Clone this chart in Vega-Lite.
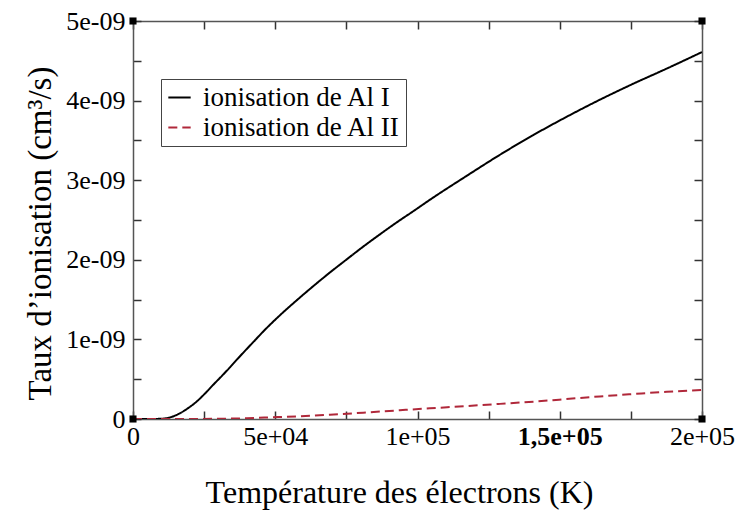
{
  "$schema": "https://vega.github.io/schema/vega-lite/v6.json",
  "width": 569,
  "height": 398,
  "autosize": "none",
  "padding": {"left": 133, "top": 21, "right": 37, "bottom": 103},
  "background": "white",
  "config": {
    "view": {"stroke": null},
    "font": "Liberation Serif",
    "axis": {
      "domainColor": "#555",
      "domainWidth": 1.5,
      "ticks": true,
      "tickColor": "#333",
      "tickOpacity": 1,
      "tickWidth": 1.5,
      "tickSize": -8,
      "grid": false,
      "zindex": 1,
      "labelFont": "Liberation Serif",
      "labelFontSize": 26,
      "labelColor": "black",
      "titleFont": "Liberation Serif",
      "titleFontWeight": "normal",
      "titleColor": "black",
      "labelOverlap": false,
      "labelBound": false,
      "labelFlush": false
    },
    "legend": {
      "labelFont": "Liberation Serif",
      "labelFontSize": 27,
      "labelColor": "black",
      "labelLimit": 0,
      "strokeColor": "#444",
      "fillColor": "white",
      "padding": 5,
      "rowPadding": 2,
      "labelOffset": 10,
      "symbolType": "stroke",
      "symbolSize": 500,
      "symbolStrokeWidth": 2
    }
  },
  "datasets": {
    "rates": [
      {"T": 0, "rate": 0, "series": "ionisation de Al I"},
      {"T": 5000, "rate": 0, "series": "ionisation de Al I"},
      {"T": 10000, "rate": 0.003e-9, "series": "ionisation de Al I"},
      {"T": 13000, "rate": 0.02e-9, "series": "ionisation de Al I"},
      {"T": 16500, "rate": 0.072e-9, "series": "ionisation de Al I"},
      {"T": 19500, "rate": 0.14e-9, "series": "ionisation de Al I"},
      {"T": 22400, "rate": 0.22e-9, "series": "ionisation de Al I"},
      {"T": 25300, "rate": 0.32e-9, "series": "ionisation de Al I"},
      {"T": 28200, "rate": 0.43e-9, "series": "ionisation de Al I"},
      {"T": 31200, "rate": 0.54e-9, "series": "ionisation de Al I"},
      {"T": 34100, "rate": 0.65e-9, "series": "ionisation de Al I"},
      {"T": 37000, "rate": 0.765e-9, "series": "ionisation de Al I"},
      {"T": 40000, "rate": 0.88e-9, "series": "ionisation de Al I"},
      {"T": 42900, "rate": 0.99e-9, "series": "ionisation de Al I"},
      {"T": 45800, "rate": 1.10e-9, "series": "ionisation de Al I"},
      {"T": 51700, "rate": 1.305e-9, "series": "ionisation de Al I"},
      {"T": 57500, "rate": 1.49e-9, "series": "ionisation de Al I"},
      {"T": 63400, "rate": 1.67e-9, "series": "ionisation de Al I"},
      {"T": 69200, "rate": 1.84e-9, "series": "ionisation de Al I"},
      {"T": 75100, "rate": 2.005e-9, "series": "ionisation de Al I"},
      {"T": 80900, "rate": 2.165e-9, "series": "ionisation de Al I"},
      {"T": 86800, "rate": 2.32e-9, "series": "ionisation de Al I"},
      {"T": 92700, "rate": 2.47e-9, "series": "ionisation de Al I"},
      {"T": 98500, "rate": 2.61e-9, "series": "ionisation de Al I"},
      {"T": 104400, "rate": 2.755e-9, "series": "ionisation de Al I"},
      {"T": 117300, "rate": 3.055e-9, "series": "ionisation de Al I"},
      {"T": 129000, "rate": 3.32e-9, "series": "ionisation de Al I"},
      {"T": 140700, "rate": 3.567e-9, "series": "ionisation de Al I"},
      {"T": 152400, "rate": 3.796e-9, "series": "ionisation de Al I"},
      {"T": 164100, "rate": 4.011e-9, "series": "ionisation de Al I"},
      {"T": 175900, "rate": 4.213e-9, "series": "ionisation de Al I"},
      {"T": 187600, "rate": 4.402e-9, "series": "ionisation de Al I"},
      {"T": 200000, "rate": 4.61e-9, "series": "ionisation de Al I"},
      {"T": 0, "rate": 0, "series": "ionisation de Al II"},
      {"T": 20000, "rate": 0, "series": "ionisation de Al II"},
      {"T": 30000, "rate": 0.003e-9, "series": "ionisation de Al II"},
      {"T": 40000, "rate": 0.01e-9, "series": "ionisation de Al II"},
      {"T": 48000, "rate": 0.02e-9, "series": "ionisation de Al II"},
      {"T": 57500, "rate": 0.032e-9, "series": "ionisation de Al II"},
      {"T": 69200, "rate": 0.053e-9, "series": "ionisation de Al II"},
      {"T": 80900, "rate": 0.08e-9, "series": "ionisation de Al II"},
      {"T": 93800, "rate": 0.11e-9, "series": "ionisation de Al II"},
      {"T": 104400, "rate": 0.134e-9, "series": "ionisation de Al II"},
      {"T": 117300, "rate": 0.163e-9, "series": "ionisation de Al II"},
      {"T": 129000, "rate": 0.19e-9, "series": "ionisation de Al II"},
      {"T": 140700, "rate": 0.218e-9, "series": "ionisation de Al II"},
      {"T": 149800, "rate": 0.243e-9, "series": "ionisation de Al II"},
      {"T": 164100, "rate": 0.284e-9, "series": "ionisation de Al II"},
      {"T": 175900, "rate": 0.314e-9, "series": "ionisation de Al II"},
      {"T": 187600, "rate": 0.342e-9, "series": "ionisation de Al II"},
      {"T": 200000, "rate": 0.365e-9, "series": "ionisation de Al II"}
    ],
    "corners": [
      {"T": 0, "rate": 0},
      {"T": 0, "rate": 5e-9},
      {"T": 200000, "rate": 0},
      {"T": 200000, "rate": 5e-9}
    ]
  },
  "layer": [
    {
      "data": {"name": "rates"},
      "mark": {"type": "line", "strokeWidth": 2, "interpolate": "monotone", "clip": true},
      "encoding": {
        "x": {
          "field": "T", "type": "quantitative",
          "scale": {"domain": [0, 200000], "nice": false, "zero": false},
          "axis": {
            "orient": "bottom",
            "title": "Température des électrons (K)",
            "titleFontSize": 32,
            "titlePadding": 28,
            "titleX": 266,
            "values": [0, 25000, 50000, 75000, 100000, 125000, 150000, 175000, 200000],
            "labelExpr": "datum.value == 0 ? '0' : datum.value == 50000 ? '5e+04' : datum.value == 100000 ? '1e+05' : datum.value == 150000 ? '1,5e+05' : datum.value == 200000 ? '2e+05' : ''",
            "labelFont": "Liberation Serif",
            "labelFontSize": 26,
            "labelFontWeight": {"condition": {"test": "datum.value == 150000", "value": "bold"}, "value": "normal"},
            "tickSize": -8,
            "labelPadding": 12
          }
        },
        "y": {
          "field": "rate", "type": "quantitative",
          "scale": {"domain": [0, 5e-9], "nice": false, "zero": false},
          "axis": {
            "orient": "left",
            "title": "Taux d’ionisation (cm³/s)",
            "titleFontSize": 33,
            "titlePadding": 8,
            "titleY": 212,
            "values": [0, 0.5e-9, 1e-9, 1.5e-9, 2e-9, 2.5e-9, 3e-9, 3.5e-9, 4e-9, 4.5e-9, 5e-9],
            "labelExpr": "datum.value == 0 ? '0' : (abs(datum.value*1e9 - round(datum.value*1e9)) < 0.01 ? round(datum.value*1e9) + 'e-09' : '')",
            "labelFont": "Liberation Serif",
            "labelFontSize": 26,
            "tickSize": -8,
            "labelPadding": 16
          }
        },
        "color": {
          "field": "series", "type": "nominal",
          "scale": {"domain": ["ionisation de Al I", "ionisation de Al II"], "range": ["black", "#b0283a"]},
          "legend": {"title": null, "orient": "none", "legendX": 28, "legendY": 58}
        },
        "strokeDash": {
          "field": "series", "type": "nominal",
          "scale": {"domain": ["ionisation de Al I", "ionisation de Al II"], "range": [[1, 0], [9, 5]]},
          "legend": {"title": null, "orient": "none", "legendX": 28, "legendY": 58}
        }
      }
    },
    {
      "data": {"name": "corners"},
      "mark": {"type": "point", "shape": "square", "filled": true, "color": "black", "size": 50, "opacity": 1},
      "encoding": {
        "x": {
          "field": "T", "type": "quantitative",
          "axis": {
            "orient": "top", "title": null, "labels": false,
            "values": [0, 25000, 50000, 75000, 100000, 125000, 150000, 175000, 200000],
            "tickSize": -8
          }
        },
        "y": {
          "field": "rate", "type": "quantitative",
          "axis": {
            "orient": "right", "title": null, "labels": false,
            "values": [0, 0.5e-9, 1e-9, 1.5e-9, 2e-9, 2.5e-9, 3e-9, 3.5e-9, 4e-9, 4.5e-9, 5e-9],
            "tickSize": -8
          }
        }
      }
    }
  ],
  "resolve": {"axis": {"x": "independent", "y": "independent"}}
}
